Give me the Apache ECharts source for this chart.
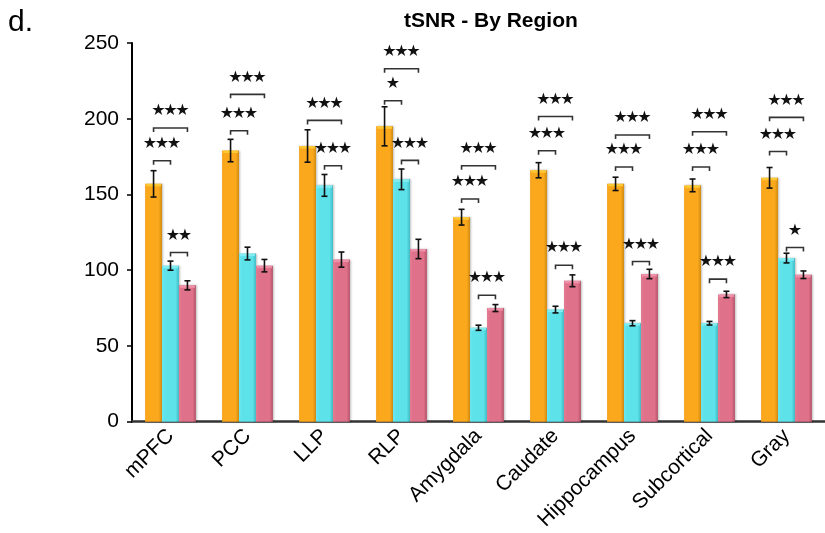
<!DOCTYPE html>
<html><head><meta charset="utf-8">
<script src="https://cdn.jsdelivr.net/npm/echarts@6/dist/echarts.min.js"></script>
<style>html,body{margin:0;padding:0;background:#fff}#c{width:825px;height:533px}</style>
</head><body><div id="c"></div>
<script>
var categories = ['mPFC','PCC','LLP','RLP','Amygdala','Caudate','Hippocampus','Subcortical','Gray'];
var orangeVals = [157,179,182,195,135,166,157,156,161];
var orangeErr  = [8.7,7.4,10.7,12.9,5.2,5,4.4,4.2,6.8];
var cyanVals   = [103,111,156,160,62,74,65,65,108];
var cyanErr    = [3,4.2,7.2,6.8,1.7,2.2,1.7,1.2,3.2];
var pinkVals   = [90,103,107,114,75,93,97.5,84,97];
var pinkErr    = [3,4.1,5,6.4,2.3,3.9,3.1,2.1,2.5];
var yTicks = [0,50,100,150,200,250];
// significance brackets
var bracketCat   = [0,0,0, 1,1, 2,2, 3,3,3, 4,4,4, 5,5,5, 6,6,6, 7,7,7, 8,8,8];
var bracketFrom  = [0,0,1, 0,0, 0,1, 0,0,1, 0,0,1, 0,0,1, 0,0,1, 0,0,1, 0,0,1];
var bracketTo    = [1,2,2, 1,2, 2,2, 1,2,2, 1,2,2, 1,2,2, 1,2,2, 1,2,2, 1,2,2];
var bracketY     = [172.3,193.9,111.7, 192.1,216.1, 198.9,169, 211.9,233,172.5, 147,169,83.5, 178.9,201.5,103.3, 168.1,189.3,105.7, 168.1,191.4,94.1, 178.4,200.9,115];
var bracketLabel = ['***','***','**', '***','***', '***','***', '*','***','***', '***','***','***', '***','***','***', '***','***','***', '***','***','***', '***','***','*'];

var GAP = 0.34;
function barW(api){ return api.size([1,0])[0]*(1-GAP)/3; }

function grad(l, m, r){
  return {type:'linear', x:0, y:0, x2:1, y2:0, colorStops:[
    {offset:0, color:l},{offset:0.18, color:m},{offset:0.8, color:m},{offset:1, color:r}]};
}
var fills = [grad('#F7A51E','#FBA81C','#D08A12'), grad('#6BE6EE','#5EE2EA','#3EBCC6'), grad('#E27D93','#E0718A','#B5536A')];
var tops = ['#FFD23A','#8FF0F4','#F29AB0'];
var vals = [orangeVals, cyanVals, pinkVals];
var errs = [orangeErr, cyanErr, pinkErr];

var series = [];
for (var s=0; s<3; s++){
  series.push({type:'bar', data:vals[s], barGap:'0%', barCategoryGap:(GAP*100)+'%',
    itemStyle:{color:fills[s], borderWidth:0, shadowBlur:2, shadowOffsetX:1, shadowColor:'rgba(0,0,0,0.25)'}, z:2});
}
for (var s2=0; s2<3; s2++){
  (function(si){
    var d = vals[si].map(function(v,i){ return [i, v, errs[si][i]]; });
    series.push({type:'custom', data:d, encode:{x:0,y:1}, z:5,
      renderItem:function(params, api){
        var i = api.value(0), v = api.value(1), e = api.value(2);
        var bw = barW(api);
        var top = api.coord([i, v+e]), bot = api.coord([i, v-e]), vt = api.coord([i, v]);
        var x = top[0] + (si-1)*bw;
        var cap = 3;
        var st = {stroke:'#111', lineWidth:1.6};
        return {type:'group', children:[
          {type:'rect', shape:{x:x-bw/2+1, y:vt[1], width:bw-2, height:2.5}, style:{fill:tops[si], opacity:0.8}, z2:0},
          {type:'line', shape:{x1:x,y1:top[1],x2:x,y2:bot[1]}, style:st, z2:1},
          {type:'line', shape:{x1:x-cap,y1:top[1],x2:x+cap,y2:top[1]}, style:st, z2:1},
          {type:'line', shape:{x1:x-cap,y1:bot[1],x2:x+cap,y2:bot[1]}, style:st, z2:1}
        ]};
      }});
  })(s2);
}
var bdata = bracketCat.map(function(c,k){ return [c, bracketY[k], bracketFrom[k], bracketTo[k]]; });
series.push({type:'custom', data:bdata, encode:{x:0,y:1}, z:6,
  renderItem:function(params, api){
    var c = api.value(0), y = api.value(1), f = api.value(2), t = api.value(3);
    var p = api.coord([c, y]);
    var bw = barW(api);
    var x1 = p[0] + (f-1)*bw, x2 = p[0] + (t-1)*bw;
    var ch = [{type:'polyline', shape:{points:[[x1,p[1]+4],[x1,p[1]],[x2,p[1]],[x2,p[1]+4]]},
      style:{stroke:'#333', lineWidth:1.6, fill:null}}];
    var lbl = bracketLabel[params.dataIndex];
    var n = lbl.length, mid = (x1+x2)/2;
    for (var k=0;k<n;k++){
      ch.push({type:'text', x: mid + (k-(n-1)/2)*12, y: p[1]-17,
        style:{text:'\u2605', fill:'#111', font:'16px "DejaVu Sans"', align:'center', verticalAlign:'middle'}});
    }
    return {type:'group', children:ch};
  }});

var chart = echarts.init(document.getElementById('c'));
chart.setOption({
  animation:false,
  backgroundColor:'#fff',
  title:{text:'tSNR - By Region', left:399, top:6,
    textStyle:{fontFamily:'Liberation Sans', fontWeight:'bold', fontSize:21, color:'#000'}},
  graphic:[{type:'text', left:8, top:8, style:{text:'d.', font:'30px "Liberation Sans"', fill:'#000'}}],
  grid:{left:132, top:43, width:698, height:379},
  xAxis:{type:'category', data:categories,
    axisLine:{lineStyle:{color:'#333', width:2.5}},
    axisTick:{length:5, lineStyle:{color:'#111', width:1.5}},
    axisLabel:{rotate:45, fontSize:21, fontFamily:'Liberation Sans', color:'#000', margin:11}},
  yAxis:{type:'value', min:yTicks[0], max:yTicks[yTicks.length-1], interval:yTicks[1]-yTicks[0],
    axisLine:{show:true, lineStyle:{color:'#000', width:2}},
    axisTick:{show:true, length:5, lineStyle:{color:'#000', width:1.5}},
    axisLabel:{fontSize:21, fontFamily:'Liberation Sans', color:'#000', margin:13},
    splitLine:{show:false}},
  series:series
});
</script></body></html>
